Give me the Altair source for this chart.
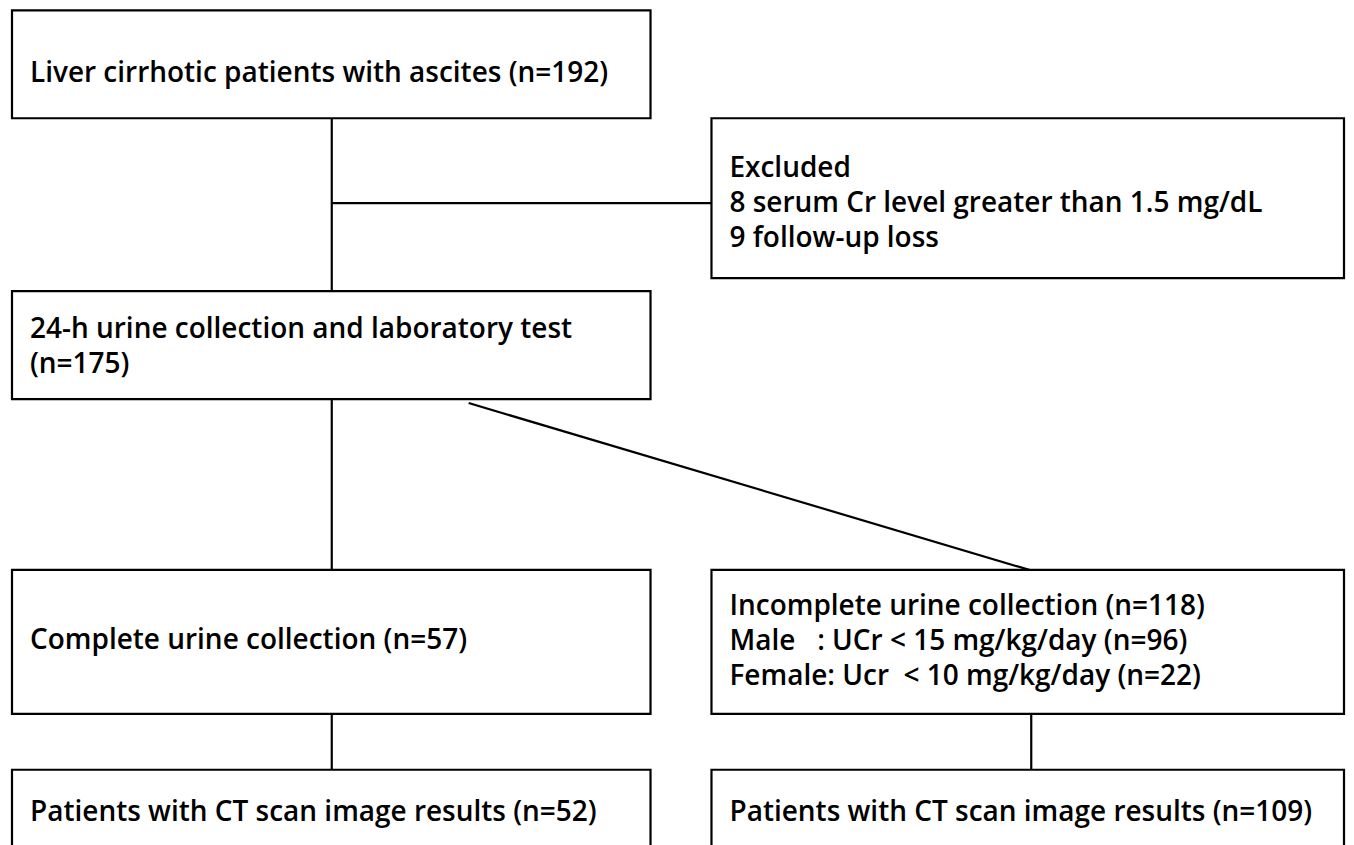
import altair as alt
import pandas as pd

# ---- content ----
box_ids = ["start", "excluded", "lab", "complete", "incomplete", "ct_left", "ct_right"]
box_lines = [
    ["Liver cirrhotic patients with ascites (n=192)"],
    ["Excluded", "8 serum Cr level greater than 1.5 mg/dL", "9 follow-up loss"],
    ["24-h urine collection and laboratory test", "(n=175)"],
    ["Complete urine collection (n=57)"],
    ["Incomplete urine collection (n=118)",
     "Male\u00a0\u00a0\u00a0: UCr < 15 mg/kg/day (n=96)",
     "Female: Ucr\u00a0\u00a0< 10 mg/kg/day (n=22)"],
    ["Patients with CT scan image results (n=52)"],
    ["Patients with CT scan image results (n=109)"],
]

# ---- layout (image pixel coordinates) ----
box_x0 = [12, 712, 12, 12, 712, 12, 712]
box_x1 = [651, 1345, 651, 651, 1345, 651, 1345]
box_y0 = [9, 117, 290, 569, 569, 769, 769]
box_y1 = [117, 277, 398, 713, 713, 860, 860]
text_x = [30, 730, 30, 30, 730, 30, 730]
text_y = [73, 168, 329, 640, 606, 812, 812]
LINE_GAP = 35

link_x = [332, 332, 332, 469, 332, 1032]
link_y = [117, 202, 398, 402, 713, 713]
link_x2 = [332, 712, 332, 1030, 332, 1032]
link_y2 = [290, 202, 569, 569, 769, 769]

boxes = pd.DataFrame({"id": box_ids, "x0": box_x0, "x1": box_x1, "y0": box_y0, "y1": box_y1})
rows = []
for i, lines in enumerate(box_lines):
    for j, t in enumerate(lines):
        rows.append({"text": t, "x": text_x[i], "y": text_y[i] + j * LINE_GAP})
texts = pd.DataFrame(rows)
links = pd.DataFrame({"x": link_x, "y": link_y, "x2": link_x2, "y2": link_y2})

W, H = 1338, 829
xs = alt.Scale(domain=[8, 8 + W], nice=False, zero=False)
ys = alt.Scale(domain=[8 + H, 8], nice=False, zero=False)

rect = alt.Chart(boxes).mark_rect(fill="white", stroke="black", strokeWidth=2.2).encode(
    x=alt.X("x0:Q", scale=xs, axis=None), x2="x1:Q",
    y=alt.Y("y0:Q", scale=ys, axis=None), y2="y1:Q",
)
rules = alt.Chart(links).mark_rule(color="black", strokeWidth=2.2).encode(
    x=alt.X("x:Q", scale=xs, axis=None), x2="x2:Q",
    y=alt.Y("y:Q", scale=ys, axis=None), y2="y2:Q",
)
label = alt.Chart(texts).mark_text(
    align="left", baseline="middle", font="Open Sans", fontSize=28,
    fontWeight=600, color="black",
).encode(
    x=alt.X("x:Q", scale=xs, axis=None),
    y=alt.Y("y:Q", scale=ys, axis=None),
    text="text:N",
)

chart = alt.layer(rules, rect, label).properties(
    width=W, height=H, padding=0
).configure_view(stroke=None)

chart.save("out.html", embed_options={"renderer": "svg", "actions": False})
